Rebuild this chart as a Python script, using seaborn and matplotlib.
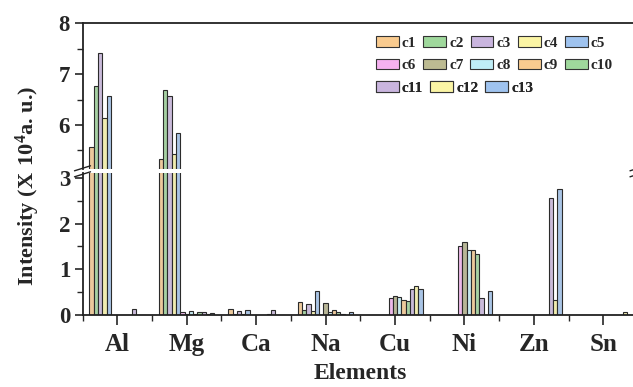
import numpy as np
import pandas as pd
import matplotlib
matplotlib.use('Agg')
import matplotlib.pyplot as plt
import seaborn as sns
from matplotlib.patches import Patch
from matplotlib.lines import Line2D
from matplotlib.ticker import MultipleLocator, FixedLocator

# Elements on the x axis
elements = ['Al', 'Mg', 'Ca', 'Na', 'Cu', 'Ni', 'Zn', 'Sn']
samples = ['c%d' % i for i in range(1, 14)]

# Intensity (x 10^4 a.u.) for each sample, in the order of elements
c1 = [5.57, 5.33, 0.13, 0.28, 0, 0, 0, 0]
c2 = [6.77, 6.69, 0.02, 0.12, 0, 0, 0, 0]
c3 = [7.41, 6.57, 0.09, 0.23, 0, 0, 0, 0]
c4 = [6.14, 5.43, 0.02, 0.09, 0, 0, 0, 0]
c5 = [6.57, 5.85, 0.12, 0.53, 0, 0, 0, 0]
c6 = [0, 0.06, 0.01, 0, 0.37, 1.52, 0, 0]
c7 = [0, 0.02, 0, 0.26, 0.42, 1.60, 0, 0]
c8 = [0, 0.09, 0, 0.06, 0.39, 1.42, 0, 0]
c9 = [0, 0.02, 0.01, 0.11, 0.33, 1.42, 0, 0]
c10 = [0, 0.07, 0.03, 0.07, 0.31, 1.33, 0, 0]
c11 = [0.13, 0.07, 0.11, 0.03, 0.56, 0.37, 2.55, 0]
c12 = [0, 0.02, 0, 0, 0.63, 0, 0.33, 0.07]
c13 = [0, 0.04, 0, 0.07, 0.56, 0.53, 2.75, 0]

colors = ['#F9CB8F', '#9FD89C', '#C9B5DE', '#FBF5A5', '#9FC3EF',
          '#F5B1F0', '#BDBB92', '#BFEEF7', '#F9CB8F', '#9FD89C',
          '#C9B5DE', '#FBF5A5', '#9FC3EF']

series = [c1, c2, c3, c4, c5, c6, c7, c8, c9, c10, c11, c12, c13]
df = pd.DataFrame({
    'Element': elements * len(samples),
    'Sample': np.repeat(samples, len(elements)),
    'Intensity': np.concatenate(series),
})

sns.set_style('ticks')
plt.rcParams['font.family'] = ['Liberation Serif', 'DejaVu Serif']
plt.rcParams['font.weight'] = 'bold'
plt.rcParams['mathtext.fontset'] = 'custom'
plt.rcParams['mathtext.rm'] = 'Liberation Serif'
plt.rcParams['mathtext.bf'] = 'Liberation Serif:bold'

W, H = 633, 387
fig = plt.figure(figsize=(W / 100, H / 100), dpi=100)

left = 82.5 / W
width = (638 - 82.5) / W
ax_bot = fig.add_axes([left, 1 - 315 / H, width, (315 - 173.3) / H])
ax_top = fig.add_axes([left, 1 - 169.3 / H, width, (169.3 - 23.3) / H])

for ax in (ax_top, ax_bot):
    sns.barplot(data=df, x='Element', y='Intensity', hue='Sample',
                hue_order=samples, order=elements, palette=colors,
                width=0.8, gap=0, edgecolor='#2b2b2b', linewidth=0.8,
                legend=False, ax=ax)
    ax.set_xlim(-0.5, 7.5)
    ax.set_xlabel('')
    ax.set_ylabel('')
    for s in ax.spines.values():
        s.set_linewidth(1.3)
        s.set_color('#222222')
    ax.yaxis.set_minor_locator(MultipleLocator(0.5))
    ax.tick_params(axis='y', which='major', direction='out', length=6,
                   width=1.2, labelsize=16.5, pad=3)
    ax.tick_params(axis='y', which='minor', direction='out', length=4,
                   width=1.0)

ax_bot.set_ylim(0, 3.10)
ax_bot.set_yticks([0, 1, 2, 3])
ax_bot.spines['top'].set_visible(False)
ax_bot.xaxis.set_minor_locator(FixedLocator(np.arange(-0.5, 8, 1)))
ax_bot.tick_params(axis='x', which='major', direction='out', length=7,
                   width=1.2, labelsize=18, pad=6)
ax_bot.tick_params(axis='x', which='minor', direction='out', length=4,
                   width=1.0)
ax_bot.set_xlabel('Elements', fontsize=17, fontweight='bold', labelpad=5)

ax_top.set_ylim(5.13, 8)
ax_top.set_yticks([6, 7, 8])
ax_top.spines['bottom'].set_visible(False)
ax_top.tick_params(axis='x', which='both', bottom=False, labelbottom=False)

# axis break marks
yc = 1 - 171.3 / H
for xs in (82.5, 638):
    for dy in (-3.0, 3.0):
        fig.add_artist(Line2D([(xs - 8) / W, (xs + 8) / W],
                              [yc + (dy - 2.5) / H, yc + (dy + 2.5) / H],
                              transform=fig.transFigure, color='#222222',
                              lw=1.0))

fig.text(28 / W, 1 - 186 / H,
         r'Intensity $\mathrm{(X\ 10^{4}}$a. u.)',
         rotation=90, ha='center', va='center', fontsize=16,
         fontweight='bold')

# legend rows laid out like the original (three flowing rows)
rows = [range(0, 5), range(5, 10), range(10, 13)]
row_y = [43.3, 65.5, 88.3]
for idx, ry in zip(rows, row_y):
    handles = [Patch(facecolor=colors[i], edgecolor='#333333', linewidth=0.8)
               for i in idx]
    labels = [samples[i] for i in idx]
    leg = ax_top.legend(handles, labels, ncol=len(handles), frameon=False,
                        loc='center left', bbox_to_anchor=(376 / W, 1 - ry / H),
                        bbox_transform=fig.transFigure, borderpad=0,
                        borderaxespad=0, handlelength=1.5, handleheight=0.7,
                        handletextpad=0.2, columnspacing=0.45,
                        prop={'size': 11, 'weight': 'bold'})
    ax_top.add_artist(leg)

fig.savefig('out.png', dpi=100)
